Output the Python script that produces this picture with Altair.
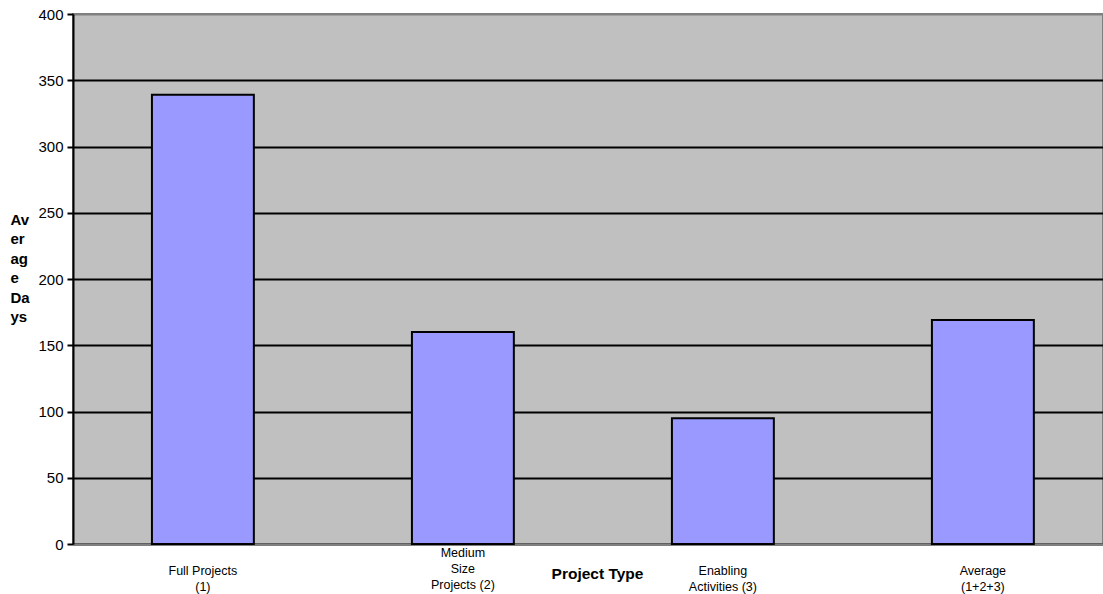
import altair as alt
import pandas as pd

categories = ["Full Projects\n(1)", "Medium\nSize\nProjects (2)", "Enabling\nActivities (3)", "Average\n(1+2+3)"]
values = [339, 160, 95, 169]
y_ticks = [0, 50, 100, 150, 200, 250, 300, 350, 400]

df = pd.DataFrame({"cat": categories, "days": values})

x_enc = alt.X(
    "cat:N",
    sort=categories,
    scale=alt.Scale(paddingInner=0.608, paddingOuter=0.2848, align=0.533),
    axis=alt.Axis(
        title="Project Type",
        titleFontSize=15.5,
        titleFont="Liberation Sans",
        titleFontWeight="bold",
        titleColor="black",
        titleX=524,
        titleY=29,
        titleBaseline="middle",
        titleAlign="center",
        labelExpr="split(datum.label, '\\n')",
        labelAngle=0,
        labelFont="Liberation Sans",
        labelFontSize=12.5,
        labelColor="black",
        labelLineHeight=16,
        labelBaseline="top",
        labelPadding={"condition": {"test": "indexof(datum.value, 'Medium') >= 0", "value": 2}, "value": 20},
        ticks=False,
        domainColor="#808080",
        domainWidth=2,
    ),
)

bars = alt.Chart(df).mark_bar(
    color="#9999FF", stroke="black", strokeWidth=2
).encode(
    x=x_enc,
    y=alt.Y(
        "days:Q",
        scale=alt.Scale(domain=[0, 400], nice=False),
        axis=alt.Axis(
            values=y_ticks,
            title=["Av", "er", "ag", "e", "Da", "ys"],
            titleAngle=0,
            titleAlign="left",
            titleBaseline="top",
            titleX=-63,
            titleY=198,
            titleLineHeight=19.5,
            titleFont="Liberation Sans",
            titleFontSize=15,
            titleFontWeight="bold",
            titleColor="black",
            labelFont="Liberation Sans",
            labelFontSize=15,
            labelColor="black",
            labelPadding=4,
            tickSize=6,
            tickColor="black",
            tickWidth=2,
            domainColor="black",
            domainWidth=2,
            grid=True,
            gridColor={"condition": {"test": "datum.value >= 400", "value": "#808080"}, "value": "black"},
            gridWidth=2,
        ),
    ),
)

chart = bars.properties(
    width=1030,
    height=530,
    autosize=alt.AutoSizeParams(type="none"),
    padding={"left": 73, "top": 14, "right": 0, "bottom": 50},
    background="white",
).configure_view(
    fill="#C0C0C0", stroke="#808080", strokeWidth=2
)

chart.save("out.html", embed_options={"renderer": "svg", "actions": False})
